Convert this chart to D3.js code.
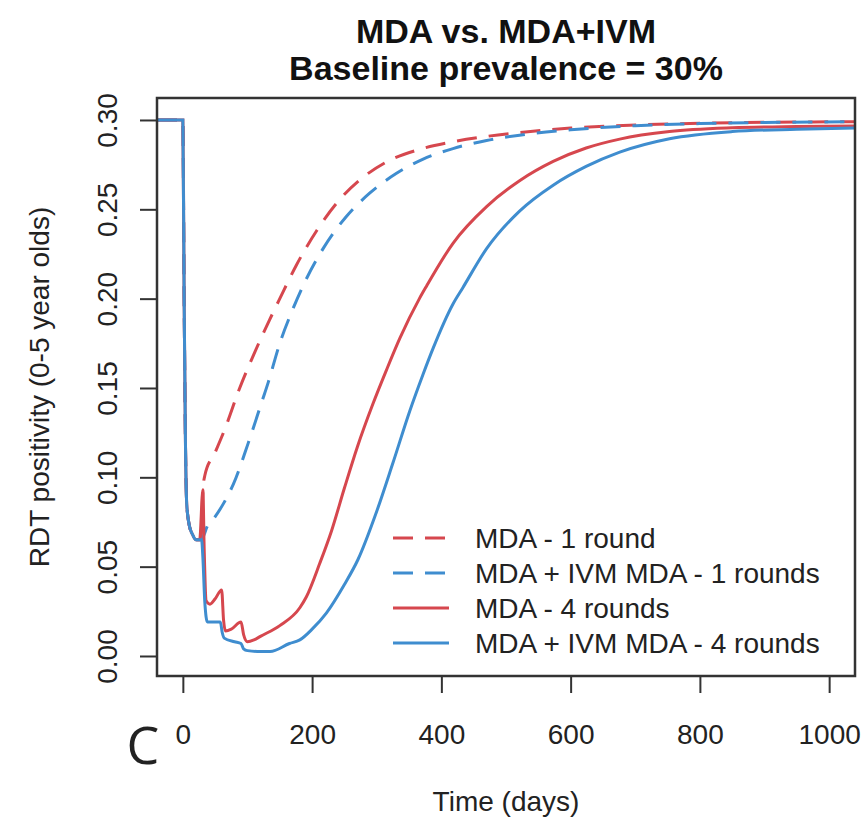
<!DOCTYPE html>
<html>
<head>
<meta charset="utf-8">
<script src="https://cdn.jsdelivr.net/npm/d3@7"></script>
<style>
  body { margin: 0; background: #fff; }
  svg { display: block; font-family: "Liberation Sans", Arial, sans-serif; }
  .line { fill: none; stroke-width: 3; }
  .tick line { stroke: #333; stroke-width: 2; }
  .tick text { fill: #222; font-size: 28px; }
</style>
</head>
<body>
<div id="chart"></div>
<script>
(function(){

  // series (time in days, RDT positivity)
  var mda1Days = [-40, 0, 2, 4, 6, 10, 15, 20, 28, 31, 34, 50, 65, 88, 110, 134, 150, 176, 207, 238, 274, 315, 366, 418, 470, 521, 600, 700, 800, 900, 1040];
  var mda1Vals = [0.300, 0.300, 0.200, 0.120, 0.085, 0.073, 0.068, 0.065, 0.065, 0.093, 0.101, 0.114, 0.127, 0.150, 0.169, 0.188, 0.200, 0.219, 0.238, 0.2535, 0.2665, 0.2765, 0.2835, 0.2878, 0.2908, 0.293, 0.2955, 0.2972, 0.2982, 0.2987, 0.299];

  var ivm1Days = [-40, 0, 2, 4, 6, 10, 15, 20, 29, 33, 37, 50, 67, 78, 101, 122, 132, 150, 170, 191, 217, 253, 289, 330, 371, 418, 470, 521, 600, 700, 800, 900, 1040];
  var ivm1Vals = [0.300, 0.300, 0.200, 0.120, 0.085, 0.073, 0.068, 0.065, 0.065, 0.068, 0.072, 0.078, 0.088, 0.096, 0.119, 0.142, 0.153, 0.175, 0.194, 0.211, 0.228, 0.246, 0.259, 0.270, 0.278, 0.284, 0.2885, 0.2915, 0.2945, 0.2968, 0.298, 0.2986, 0.299];

  var mda4Days = [-40, 0, 2, 4, 6, 10, 15, 20, 26, 31, 33, 36, 42, 50, 60, 63, 66, 75, 90, 94, 100, 110, 120, 150, 181, 191, 212, 230, 250, 270, 294, 315, 336, 366, 377, 418, 470, 521, 573, 624, 676, 753, 850, 950, 1040];
  var mda4Vals = [0.300, 0.300, 0.200, 0.120, 0.085, 0.073, 0.068, 0.065, 0.065, 0.093, 0.060, 0.031, 0.029, 0.032, 0.037, 0.020, 0.014, 0.015, 0.019, 0.012, 0.008, 0.009, 0.011, 0.017, 0.027, 0.033, 0.052, 0.070, 0.094, 0.117, 0.141, 0.160, 0.178, 0.200, 0.207, 0.231, 0.2515, 0.266, 0.2768, 0.2843, 0.2893, 0.2935, 0.2956, 0.2963, 0.2966];

  var ivm4Days = [-40, 0, 2, 4, 6, 10, 15, 20, 29, 31, 34, 38, 50, 58, 61, 64, 80, 90, 94, 100, 120, 135, 165, 181, 200, 222, 250, 271, 300, 325, 351, 371, 387, 418, 433, 470, 521, 573, 624, 676, 753, 850, 950, 1040];
  var ivm4Vals = [0.300, 0.300, 0.200, 0.120, 0.085, 0.073, 0.068, 0.065, 0.065, 0.055, 0.030, 0.019, 0.019, 0.019, 0.013, 0.010, 0.008, 0.007, 0.004, 0.003, 0.0025, 0.0025, 0.007, 0.009, 0.015, 0.024, 0.040, 0.054, 0.081, 0.108, 0.137, 0.157, 0.172, 0.197, 0.206, 0.228, 0.249, 0.2635, 0.274, 0.282, 0.2895, 0.2935, 0.2948, 0.2955];

  var seriesNames = ['MDA - 1 round', 'MDA + IVM MDA - 1 rounds', 'MDA - 4 rounds', 'MDA + IVM MDA - 4 rounds'];
  var seriesColors = ['#d6474e', '#3f8dcf', '#d6474e', '#3f8dcf'];
  var seriesDashed = [true, true, false, false];

  var xTicks = [0, 200, 400, 600, 800, 1000];
  var yTicks = [0.00, 0.05, 0.10, 0.15, 0.20, 0.25, 0.30];

  var titleLines = ['MDA vs. MDA+IVM', 'Baseline prevalence = 30%'];

  var width = 868, height = 820;
  var box = { left: 157, right: 855, top: 98, bottom: 676 };

  var x = d3.scaleLinear().domain([-40, 1040]).range([box.left, box.right]);
  var y = d3.scaleLinear().domain([-0.0112, 0.3123]).range([box.bottom, box.top]);

  var series = [
    d3.zip(mda1Days, mda1Vals),
    d3.zip(ivm1Days, ivm1Vals),
    d3.zip(mda4Days, mda4Vals),
    d3.zip(ivm4Days, ivm4Vals)
  ];

  var line = d3.line()
        .x(function(d){ return x(d[0]); })
        .y(function(d){ return y(d[1]); })
        .curve(d3.curveMonotoneX);

  var svg = d3.select('#chart')
        .append('svg')
          .attr('width', width)
          .attr('height', height);

  svg.append('defs').append('clipPath')
      .attr('id', 'plot-clip')
    .append('rect')
      .attr('x', box.left)
      .attr('y', box.top)
      .attr('width', box.right - box.left)
      .attr('height', box.bottom - box.top);

  // title
  svg.append('g').selectAll('text')
    .data(titleLines)
    .enter().append('text')
      .attr('x', (box.left + box.right) / 2)
      .attr('y', function(d, i){ return 43 + i * 37; })
      .attr('text-anchor', 'middle')
      .attr('font-size', 34)
      .attr('font-weight', 'bold')
      .attr('fill', '#111')
      .text(function(d){ return d; });

  // lines
  svg.append('g')
      .attr('clip-path', 'url(#plot-clip)')
    .selectAll('path')
    .data(series)
    .enter().append('path')
      .attr('class', 'line')
      .attr('stroke', function(d, i){ return seriesColors[i]; })
      .attr('stroke-dasharray', function(d, i){ return seriesDashed[i] ? '20,12' : null; })
      .attr('d', line);

  // x axis
  var xAxis = svg.append('g')
      .attr('transform', 'translate(0,' + box.bottom + ')')
      .call(d3.axisBottom(x).tickValues(xTicks).tickSize(17).tickPadding(31).tickFormat(d3.format('d')));
  xAxis.select('.domain').remove();

  // y axis, labels turned like base R
  var yAxis = svg.append('g')
      .attr('transform', 'translate(' + box.left + ',0)')
      .call(d3.axisLeft(y).tickValues(yTicks).tickSize(17).tickFormat(d3.format('.2f')));
  yAxis.select('.domain').remove();
  yAxis.selectAll('.tick text')
      .attr('x', 0)
      .attr('dy', 0)
      .attr('text-anchor', 'middle')
      .attr('transform', 'translate(-40,0) rotate(-90)');

  // plot frame
  svg.append('rect')
      .attr('x', box.left)
      .attr('y', box.top)
      .attr('width', box.right - box.left)
      .attr('height', box.bottom - box.top)
      .attr('fill', 'none')
      .attr('stroke', '#333')
      .attr('stroke-width', 2.5);

  // axis titles
  svg.append('text')
      .attr('x', (box.left + box.right) / 2)
      .attr('y', 811)
      .attr('text-anchor', 'middle')
      .attr('font-size', 28)
      .attr('fill', '#222')
      .text('Time (days)');

  svg.append('text')
      .attr('transform', 'translate(49,' + (box.top + box.bottom) / 2 + ') rotate(-90)')
      .attr('text-anchor', 'middle')
      .attr('font-size', 28)
      .attr('fill', '#222')
      .text('RDT positivity (0-5 year olds)');

  // panel letter
  svg.append('text')
      .attr('x', 143)
      .attr('y', 764)
      .attr('text-anchor', 'middle')
      .attr('font-family', '"Open Sans", sans-serif')
      .attr('font-size', 52)
      .attr('fill', '#222')
      .text('C');

  // legend
  var legend = svg.append('g')
      .attr('transform', 'translate(393,538)');

  var rows = legend.selectAll('g')
    .data(seriesNames)
    .enter().append('g')
      .attr('transform', function(d, i){ return 'translate(0,' + i * 35 + ')'; });

  rows.append('line')
      .attr('x1', 0)
      .attr('x2', 56)
      .attr('stroke-width', 3)
      .attr('stroke', function(d, i){ return seriesColors[i]; })
      .attr('stroke-dasharray', function(d, i){ return seriesDashed[i] ? '20,12' : null; });

  rows.append('text')
      .attr('x', 82)
      .attr('dy', '0.35em')
      .attr('font-size', 28)
      .attr('fill', '#222')
      .text(function(d){ return d; });

})();
</script>
</body>
</html>
